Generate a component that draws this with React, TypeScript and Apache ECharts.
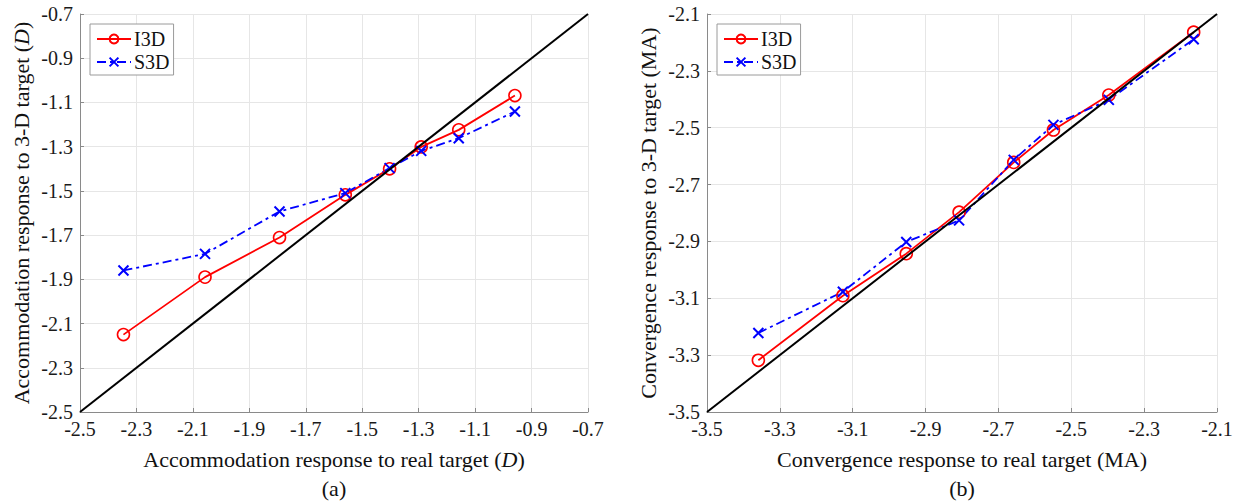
import React, { useEffect, useRef } from "react";
import * as echarts from "echarts";

// Panel (a): accommodation
const accRealX = [-2.346, -2.057, -1.793, -1.56, -1.403, -1.291, -1.158, -0.959];
const accI3D = [-2.15, -1.89, -1.711, -1.518, -1.4, -1.301, -1.224, -1.069];
const accS3D = [-1.86, -1.785, -1.593, -1.51, -1.397, -1.319, -1.262, -1.141];

// Panel (b): convergence
const conRealX = [-3.359, -3.127, -2.953, -2.808, -2.658, -2.549, -2.397, -2.164];
const conI3D = [-3.318, -3.091, -2.943, -2.797, -2.622, -2.508, -2.385, -2.164];
const conS3D = [-3.222, -3.077, -2.902, -2.826, -2.613, -2.49, -2.402, -2.189];

const accRange = [-2.5, -0.7];
const conRange = [-3.5, -2.1];
const tickStep = 0.2;

const seriesNames = ["I3D", "S3D"];
const captions = ["(a)", "(b)"];

const FONT = "Liberation Serif";
const X_MARK = "path://M0,0L10,10M10,0L0,10";

function pairs(xs: number[], ys: number[]) {
  return xs.map((x, i) => [x, ys[i]]);
}

export default function App() {
  const ref = useRef<HTMLDivElement>(null);
  useEffect(() => {
    if (!ref.current) return;
    const chart = echarts.init(ref.current, undefined, { renderer: "svg" });

    const grids = [
      { left: 80, top: 14, width: 508, height: 398 },
      { left: 707, top: 14, width: 510, height: 398 },
    ];

    const labelStyle = (margin: number) => ({
      color: "#1a1a1a",
      fontFamily: FONT,
      fontSize: 20,
      margin,
      formatter: (v: number) => v.toFixed(1),
      showMinLabel: true,
      showMaxLabel: true,
    });

    const axisCommon = (range: number[]) => ({
      type: "value",
      min: range[0],
      max: range[1],
      interval: tickStep,
      axisLine: { show: true, lineStyle: { color: "#8a8a8a", width: 1 } },
      axisTick: { show: true, inside: true, length: 4, lineStyle: { color: "#8a8a8a" } },
      splitLine: { show: true, lineStyle: { color: "#e6e6e6", width: 1 } },
      nameLocation: "middle",
      nameTextStyle: {
        color: "#111",
        fontFamily: FONT,
        fontSize: 22,
        rich: { i: { fontStyle: "italic", fontFamily: FONT, fontSize: 22, color: "#111" } },
      },
    });

    const xAxes = [
      { ...axisCommon(accRange), gridIndex: 0, name: "Accommodation response to real target ({i|D})", nameGap: 36, axisLabel: labelStyle(7) },
      { ...axisCommon(conRange), gridIndex: 1, name: "Convergence response to real target (MA)", nameGap: 36, axisLabel: labelStyle(7) },
    ];
    const yAxes = [
      { ...axisCommon(accRange), gridIndex: 0, name: "Accommodation response to 3-D target ({i|D})", nameGap: 48, axisLabel: labelStyle(7) },
      { ...axisCommon(conRange), gridIndex: 1, name: "Convergence response to 3-D target (MA)", nameGap: 48, axisLabel: labelStyle(7) },
    ];

    const mkI3D = (xi: number, data: number[][]) => ({
      name: seriesNames[0],
      type: "line",
      xAxisIndex: xi,
      yAxisIndex: xi,
      data,
      symbol: "circle",
      symbolSize: 12,
      lineStyle: { color: "#ff0000", width: 1.8 },
      itemStyle: { color: "rgba(0,0,0,0)", borderColor: "#ff0000", borderWidth: 1.6 },
      z: 3,
    });
    const mkS3D = (xi: number, data: number[][]) => ({
      name: seriesNames[1],
      type: "line",
      xAxisIndex: xi,
      yAxisIndex: xi,
      data,
      symbol: X_MARK,
      symbolSize: 10,
      lineStyle: { color: "#0000ff", width: 1.8, type: [9, 4, 3, 4] },
      itemStyle: { color: "#0000ff", borderColor: "#0000ff", borderWidth: 2 },
      z: 3,
    });
    const mkDiag = (xi: number, range: number[]) => ({
      name: "diag",
      type: "line",
      xAxisIndex: xi,
      yAxisIndex: xi,
      data: [[range[0], range[0]], [range[1], range[1]]],
      symbol: "none",
      lineStyle: { color: "#000", width: 2 },
      z: 4,
      silent: true,
    });

    const legendCommon = {
      orient: "vertical",
      top: 24,
      padding: [5, 4, 3, 6],
      itemGap: 3,
      itemWidth: 34,
      itemHeight: 11,
      backgroundColor: "#fff",
      borderColor: "#9a9a9a",
      borderWidth: 1,
      textStyle: { fontFamily: FONT, fontSize: 20, color: "#111", padding: [0, 0, 0, -2] },
      data: seriesNames,
      selectedMode: false,
    };

    chart.setOption({
      animation: false,
      backgroundColor: "#fff",
      grid: grids,
      xAxis: xAxes,
      yAxis: yAxes,
      legend: [
        { ...legendCommon, left: 90 },
        { ...legendCommon, left: 717 },
      ],
      series: [
        mkI3D(0, pairs(accRealX, accI3D)),
        mkS3D(0, pairs(accRealX, accS3D)),
        mkDiag(0, accRange),
        mkI3D(1, pairs(conRealX, conI3D)),
        mkS3D(1, pairs(conRealX, conS3D)),
        mkDiag(1, conRange),
      ],
      graphic: [
        { type: "text", x: 334, y: 488, style: { text: captions[0], font: `22px "${FONT}"`, fill: "#111", align: "center", verticalAlign: "middle" } },
        { type: "text", x: 962, y: 488, style: { text: captions[1], font: `22px "${FONT}"`, fill: "#111", align: "center", verticalAlign: "middle" } },
      ],
    });
    return () => chart.dispose();
  }, []);
  return <div ref={ref} style={{ position: "fixed", left: 0, top: 0, width: 1238, height: 504 }} />;
}
